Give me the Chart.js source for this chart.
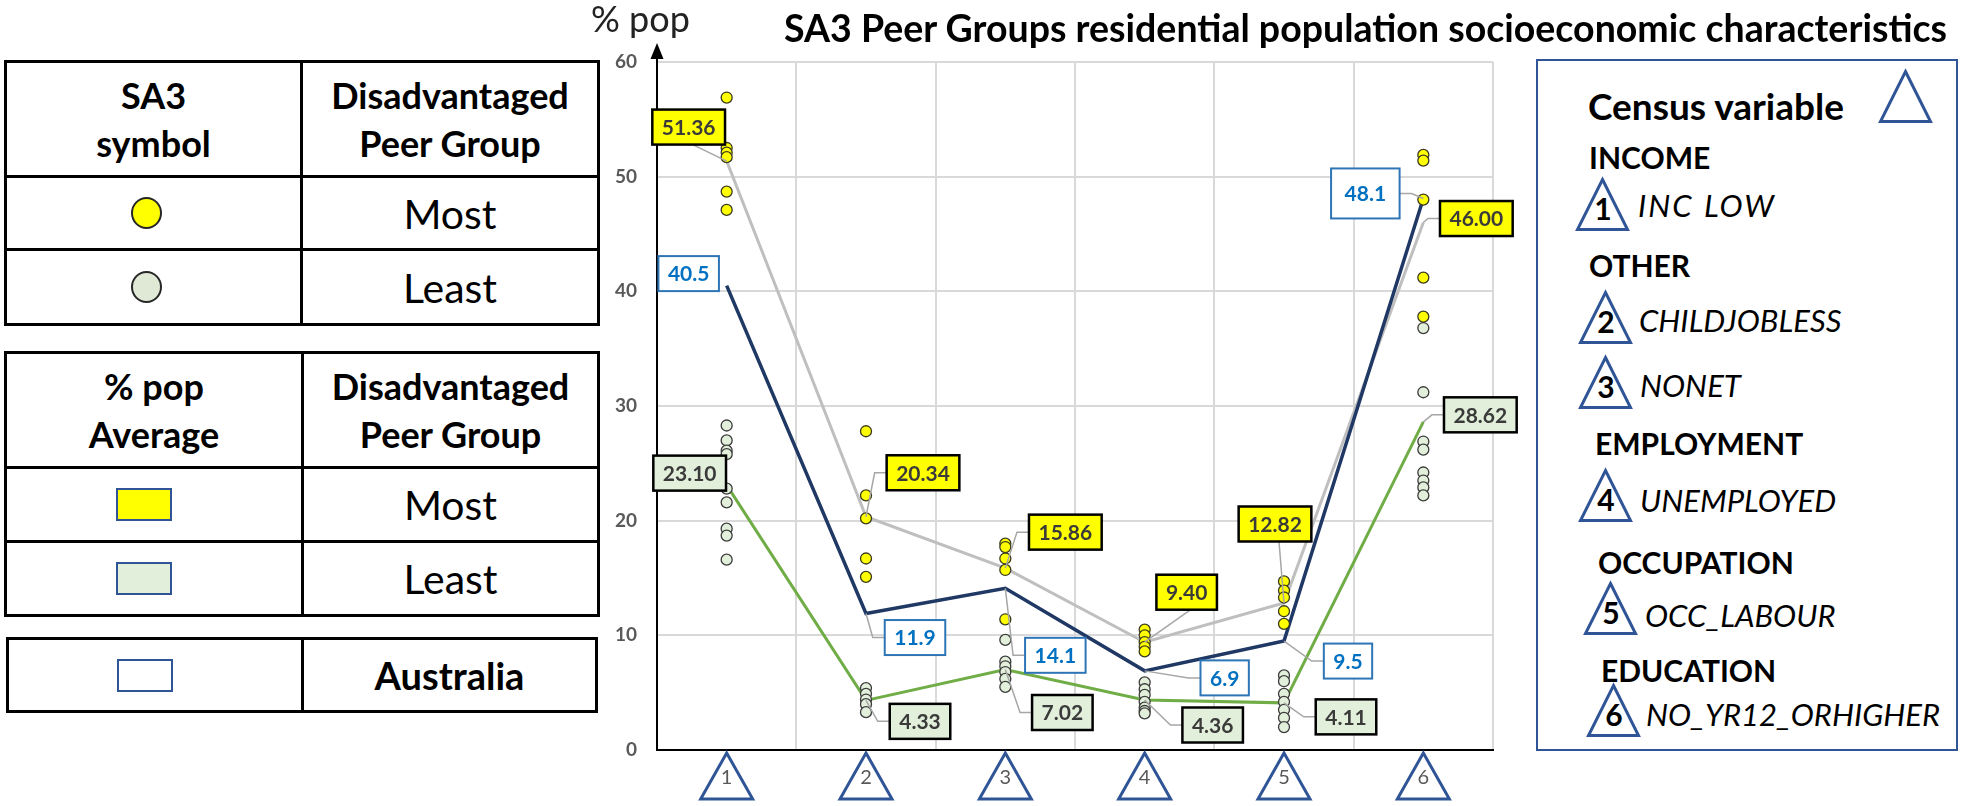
<!DOCTYPE html>
<html>
<head>
<meta charset="utf-8">
<script src="https://cdn.jsdelivr.net/npm/chart.js@4.4.1/dist/chart.umd.min.js"></script>
<style>
  body { margin:0; width:1961px; height:806px; background:#fff; position:relative; overflow:hidden;
         font-family: Lato, "Open Sans", sans-serif; color:#000; }
  .t { position:absolute; line-height:1.2; white-space:nowrap; }
  table.key { position:absolute; border-collapse:collapse; table-layout:fixed; }
  table.key td, table.key th { border:3px solid #000; text-align:center; vertical-align:middle; padding:0; }
  table.key th { font-weight:700; font-size:36px; line-height:48px; }
  .big { font-size:41px; }
  .aus { font-size:38px; font-weight:700; }
  .dot { display:inline-block; width:27px; height:28px; border-radius:50%; border:2px solid #262626;
         vertical-align:middle; position:relative; left:-7px; }
  .sw { display:inline-block; width:52px; height:29px; border:2px solid #2f5597; vertical-align:middle;
        position:relative; left:-10px; }
  #legendBox { position:absolute; left:1536px; top:59px; width:418px; height:688px; border:2.5px solid #2f5597; }
  .hd { font-weight:700; font-size:30px; }
  .it { font-style:italic; font-size:31px; }
  svg.tri { position:absolute; overflow:visible; }
  svg.tri polygon { fill:none; stroke:#2f5597; stroke-width:3; }
  svg.tri text { font-family:Lato, sans-serif; font-weight:700; font-size:30px; text-anchor:middle; fill:#000; }
</style>
</head>
<body>

<!-- left keys -->
<table class="key" style="left:4px;top:60px;width:593px">
  <colgroup><col style="width:296px"><col style="width:297px"></colgroup>
  <tr style="height:115px"><th>SA3<br>symbol</th><th>Disadvantaged<br>Peer Group</th></tr>
  <tr style="height:73px"><td><span class="dot" style="background:#ffff00"></span></td><td class="big">Most</td></tr>
  <tr style="height:75px"><td><span class="dot" style="background:#dfe9d6"></span></td><td class="big">Least</td></tr>
</table>

<table class="key" style="left:4px;top:351px;width:593px">
  <colgroup><col style="width:297px"><col style="width:296px"></colgroup>
  <tr style="height:115px"><th>% pop<br>Average</th><th>Disadvantaged<br>Peer Group</th></tr>
  <tr style="height:74px"><td><span class="sw" style="background:#ffff00"></span></td><td class="big">Most</td></tr>
  <tr style="height:74px"><td><span class="sw" style="background:#e2efda"></span></td><td class="big">Least</td></tr>
</table>

<table class="key" style="left:6px;top:637px;width:589px">
  <colgroup><col style="width:295px"><col style="width:294px"></colgroup>
  <tr style="height:73px"><td><span class="sw" style="background:#fff"></span></td><td class="aus">Australia</td></tr>
</table>

<!-- chart -->
<canvas id="c" width="960" height="806" style="position:absolute;left:560px;top:0"></canvas>
<div class="t" style="left:591px;top:-3px;font-size:36px;color:#222">% pop</div>
<div class="t" style="left:784px;top:5px;font-size:37.5px;font-weight:700">SA3 Peer Groups residential population socioeconomic characteristics</div>

<!-- census variable key -->
<div id="legendBox"></div>
<div class="t" style="left:1588px;top:84px;font-size:37px;font-weight:700">Census variable</div>
<svg class="tri" style="left:1879px;top:70px" width="53" height="53"><polygon points="26.5,1.5 51.5,51.5 1.5,51.5"/></svg>

<div class="t hd" style="left:1589px;top:139px">INCOME</div>
<svg class="tri" style="left:1576px;top:178px" width="53" height="53"><polygon points="26.5,1.5 51.5,51.5 1.5,51.5"/><text x="27" y="42">1</text></svg>
<div class="t it" style="left:1638px;top:187px;letter-spacing:2px;word-spacing:1px">INC LOW</div>

<div class="t hd" style="left:1589px;top:247px">OTHER</div>
<svg class="tri" style="left:1579px;top:291px" width="53" height="53"><polygon points="26.5,1.5 51.5,51.5 1.5,51.5"/><text x="27" y="42">2</text></svg>
<div class="t it" style="left:1639px;top:302px">CHILDJOBLESS</div>
<svg class="tri" style="left:1579px;top:356px" width="53" height="53"><polygon points="26.5,1.5 51.5,51.5 1.5,51.5"/><text x="27" y="42">3</text></svg>
<div class="t it" style="left:1640px;top:367px">NONET</div>

<div class="t hd" style="left:1595px;top:425px">EMPLOYMENT</div>
<svg class="tri" style="left:1579px;top:469px" width="53" height="53"><polygon points="26.5,1.5 51.5,51.5 1.5,51.5"/><text x="27" y="42">4</text></svg>
<div class="t it" style="left:1640px;top:482px">UNEMPLOYED</div>

<div class="t hd" style="left:1598px;top:544px">OCCUPATION</div>
<svg class="tri" style="left:1584px;top:582px" width="53" height="53"><polygon points="26.5,1.5 51.5,51.5 1.5,51.5"/><text x="27" y="42">5</text></svg>
<div class="t it" style="left:1645px;top:597px">OCC_LABOUR</div>

<div class="t hd" style="left:1601px;top:652px">EDUCATION</div>
<svg class="tri" style="left:1587px;top:684px" width="53" height="53"><polygon points="26.5,1.5 51.5,51.5 1.5,51.5"/><text x="27" y="42">6</text></svg>
<div class="t it" style="left:1646px;top:696px">NO_YR12_ORHIGHER</div>

<script>
// census variables 1..6
const categories = ['1', '2', '3', '4', '5', '6'];

// % pop averages per peer group
const mostAvg   = [51.36, 20.34, 15.86, 9.40, 12.82, 46.00];
const leastAvg  = [23.10, 4.33, 7.02, 4.36, 4.11, 28.62];
const australia = [40.5, 11.9, 14.1, 6.9, 9.5, 48.1];

// individual SA3 values
const mostSA3 = [
  [56.9, 52.5, 52.1, 51.7, 48.7, 47.1],
  [27.8, 22.2, 20.2, 16.7, 15.1],
  [18.0, 17.7, 16.7, 15.7, 11.4],
  [10.5, 10.0, 9.4, 9.0, 8.6],
  [14.7, 13.9, 13.3, 12.1, 11.0],
  [51.9, 51.4, 48.0, 41.2, 37.8]
];
const leastSA3 = [
  [28.3, 27.0, 26.1, 25.8, 22.8, 21.6, 19.3, 18.7, 16.6],
  [5.4, 4.9, 4.4, 4.0, 3.3],
  [9.6, 7.7, 7.3, 6.8, 6.2, 5.5],
  [5.9, 5.3, 4.8, 4.2, 3.7, 3.4, 3.2],
  [6.5, 6.0, 4.9, 4.2, 3.5, 2.8, 2.0],
  [36.8, 31.2, 26.9, 26.2, 24.2, 23.5, 22.9, 22.2]
];

// where the value boxes sit, px from their point
const mostLabelOffset  = [[-38, -34], [57, -44], [60, -36], [42, -50], [-9, -79], [53, -4]];
const leastLabelOffset = [[-37, -12], [54, 21], [57, 43], [68, 25], [62, 14], [57, -7]];
const ausLabelOffset   = [[-38, -12], [49, 24], [50, 67], [80, 7], [64, 20], [-58, -5]];
const ausBoxH = [35, 35, 35, 35, 35, 50];

const toPoints = (groups) => groups.flatMap((vals, i) => vals.map(v => ({ x: categories[i], y: v })));

const labelSets = [
  { index: 0, values: mostAvg, off: mostLabelOffset, dec: 2, fill: '#ffff00', stroke: '#000', bw: 2.5, color: '#3a3a3a' },
  { index: 1, values: australia, off: ausLabelOffset, dec: 1, fill: '#fff', stroke: '#2e75b6', bw: 2, color: '#0070c0', h: ausBoxH },
  { index: 2, values: leastAvg, off: leastLabelOffset, dec: 2, fill: '#e2efda', stroke: '#000', bw: 2.5, color: '#3a3a3a' }
];

const valueBoxes = {
  id: 'valueBoxes',
  afterDatasetsDraw(chart) {
    const ctx = chart.ctx;
    ctx.save();
    ctx.font = 'bold 21px Lato';
    labelSets.forEach(set => {
      const meta = chart.getDatasetMeta(set.index);
      meta.data.forEach((pt, i) => {
        const px = pt.x, py = pt.y;
        const text = set.values[i].toFixed(set.dec);
        let w = ctx.measureText(text).width + 19;
        const h = set.h ? set.h[i] : 35;
        if (h > 35) w += 8;
        const bx = px + set.off[i][0], by = py + set.off[i][1];
        const hw = w / 2, hh = h / 2;

        // leader line
        ctx.strokeStyle = '#a6a6a6';
        ctx.lineWidth = 1.5;
        ctx.beginPath();
        if (bx - hw > px + 14) {
          const ex = bx - hw;
          ctx.moveTo(px, py); ctx.lineTo(ex - 12, by); ctx.lineTo(ex, by);
        } else if (bx + hw < px - 14) {
          const ex = bx + hw;
          ctx.moveTo(px, py); ctx.lineTo(ex + 12, by); ctx.lineTo(ex, by);
        } else if (by + hh < py - 6) {
          ctx.moveTo(px, py); ctx.lineTo(bx + 4, by + hh);
        }
        ctx.stroke();

        // box
        ctx.fillStyle = set.fill;
        ctx.fillRect(bx - hw, by - hh, w, h);
        ctx.strokeStyle = set.stroke;
        ctx.lineWidth = set.bw;
        ctx.strokeRect(bx - hw, by - hh, w, h);
        ctx.fillStyle = set.color;
        ctx.textAlign = 'center';
        ctx.textBaseline = 'middle';
        ctx.fillText(text, bx, by + 1);
      });
    });
    ctx.restore();
  }
};

const axisDecor = {
  id: 'axisDecor',
  afterDraw(chart) {
    const { ctx, chartArea: a, scales: { x } } = chart;
    ctx.save();
    // arrow on top of y axis
    ctx.strokeStyle = '#000';
    ctx.lineWidth = 2;
    ctx.beginPath(); ctx.moveTo(a.left, a.top); ctx.lineTo(a.left, a.top - 6); ctx.stroke();
    ctx.fillStyle = '#000';
    ctx.beginPath();
    ctx.moveTo(a.left, a.top - 19);
    ctx.lineTo(a.left - 6.5, a.top - 3);
    ctx.lineTo(a.left + 6.5, a.top - 3);
    ctx.closePath(); ctx.fill();
    // triangle markers round the category numbers
    ctx.strokeStyle = '#2f5597';
    ctx.lineWidth = 3;
    x.ticks.forEach((t, i) => {
      const cx = x.getPixelForTick(i);
      ctx.beginPath();
      ctx.moveTo(cx, a.bottom + 3);
      ctx.lineTo(cx + 26, a.bottom + 49);
      ctx.lineTo(cx - 26, a.bottom + 49);
      ctx.closePath(); ctx.stroke();
    });
    ctx.restore();
  }
};

new Chart(document.getElementById('c'), {
  type: 'line',
  data: {
    labels: categories,
    datasets: [
      { label: 'Most average', data: mostAvg, borderColor: '#bfbfbf', borderWidth: 3, pointRadius: 0, order: 3 },
      { label: 'Australia', data: australia, borderColor: '#203864', borderWidth: 3.5, pointRadius: 0, order: 2 },
      { label: 'Least average', data: leastAvg, borderColor: '#70ad47', borderWidth: 3, pointRadius: 0, order: 2 },
      { label: 'Most SA3', data: toPoints(mostSA3), showLine: false, pointRadius: 5.5, pointBorderWidth: 1.3,
        pointBackgroundColor: '#ffff00', pointBorderColor: '#3b3b20', order: 1 },
      { label: 'Least SA3', data: toPoints(leastSA3), showLine: false, pointRadius: 5.5, pointBorderWidth: 1.3,
        pointBackgroundColor: '#e2efda', pointBorderColor: '#3b3b3b', order: 1 }
    ]
  },
  options: {
    responsive: false,
    animation: false,
    layout: { padding: { left: 0, right: 27, top: 62, bottom: 0 } },
    plugins: { legend: { display: false }, tooltip: { enabled: false }, title: { display: false } },
    scales: {
      x: {
        offset: true,
        grid: { offset: true, color: '#d9d9d9', lineWidth: 2, drawTicks: false },
        border: { color: '#000', width: 2 },
        ticks: { color: '#595959', font: { family: 'Lato', size: 20 }, padding: 16 },
        afterFit: s => { s.height = 56; }
      },
      y: {
        min: 0, max: 60,
        ticks: { stepSize: 10, color: '#595959', font: { family: 'Lato', size: 19, weight: 'bold' }, padding: 20 },
        grid: { color: '#d9d9d9', lineWidth: 2, drawTicks: false },
        border: { color: '#000', width: 2 },
        afterFit: s => { s.width = 97; }
      }
    }
  },
  plugins: [valueBoxes, axisDecor]
});
</script>
</body>
</html>
